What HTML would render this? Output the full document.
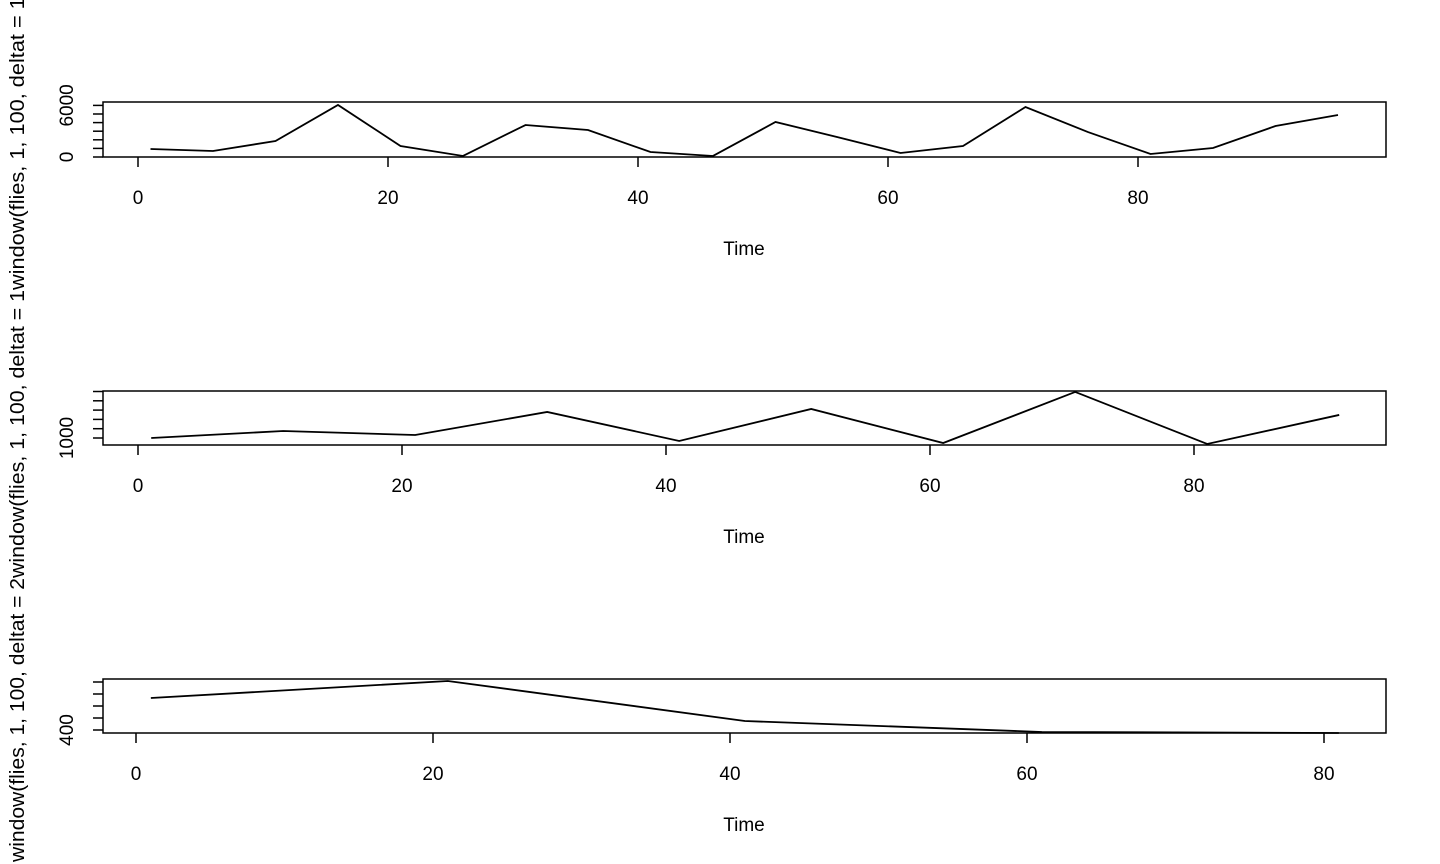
<!DOCTYPE html>
<html><head><meta charset="utf-8"><style>body{margin:0;background:#fff}svg{display:block}text{font-family:"Liberation Sans",Arial,sans-serif;fill:#000}</style></head>
<body>
<svg id="chart" width="1440" height="864" xmlns="http://www.w3.org/2000/svg"></svg>
<script>
const times1=[1,6,11,16,21,26,31,36,41,46,51,56,61,66,71,76,81,86,91,96];
const vals1=[930,700,1860,6050,1280,120,3720,3140,580,120,4070,2300,470,1280,5810,2900,350,1050,3600,4880];
const times2=[1,11,21,31,41,51,61,71,81,91];
const vals2=[1000,1750,1320,3800,680,4120,460,5950,360,3480];
const times3=[1,21,41,61,81];
const vals3=[933,1217,550,367,350];
const xticks1=[0,20,40,60,80],xticks2=[0,20,40,60,80],xticks3=[0,20,40,60,80];
const yticks1=[0,1000,2000,3000,4000,5000,6000],ylabels1=["0","","","","","","6000"];
const yticks2=[1000,2000,3000,4000,5000,6000],ylabels2=["1000","","","","",""];
const yticks3=[400,600,800,1000,1200],ylabels3=["400","","","",""];
const NS="http://www.w3.org/2000/svg",svg=document.getElementById('chart');
function mk(t,a,p){const e=document.createElementNS(NS,t);for(const k in a)e.setAttribute(k,a[k]);(p||svg).appendChild(e);return e;}
const panels=[
 {t:times1,v:vals1,xt:xticks1,yt:yticks1,yl:ylabels1,top:102,bot:157,x0:138,xs:12.5,y0v:0,y0:157,ys:0.0086},
 {t:times2,v:vals2,xt:xticks2,yt:yticks2,yl:ylabels2,top:391,bot:445,x0:138,xs:13.2,y0v:1000,y0:438,ys:0.0093},
 {t:times3,v:vals3,xt:xticks3,yt:yticks3,yl:ylabels3,top:679,bot:733,x0:136,xs:14.85,y0v:400,y0:730,ys:0.06}];
panels.forEach((p,i)=>{
 const g=mk('g',{});
 
 
 const X=t=>p.x0+t*p.xs, Y=v=>p.y0-(v-p.y0v)*p.ys;
 const box=mk('rect',{x:103,y:p.top,width:1283,height:p.bot-p.top,fill:'none',stroke:'#000','stroke-width':1.5},g);
 
 
 const line=mk('polyline',{points:p.t.map((t,j)=>X(t)+','+Y(p.v[j])).join(' '),fill:'none',stroke:'#000','stroke-width':1.8},g);
 
 
 p.xt.forEach(t=>{
  mk('line',{x1:X(t),x2:X(t),y1:p.bot,y2:p.bot+10,stroke:'#000','stroke-width':1.5},g);
  const tx=mk('text',{x:X(t),y:p.bot+47,'font-size':19,'text-anchor':'middle'},g);tx.textContent=t;
  
  
 });
 p.yt.forEach((v,j)=>{
  mk('line',{x1:93,x2:103,y1:Y(v),y2:Y(v),stroke:'#000','stroke-width':1.5},g);
  if(p.yl[j]){const tx=mk('text',{x:73,y:Y(v),'font-size':19,'text-anchor':'middle',transform:`rotate(-90 73 ${Y(v)})`},g);tx.textContent=p.yl[j];
  
  }
 });
 const xl=mk('text',{x:744,y:p.bot+98,'font-size':19,'text-anchor':'middle'},g);xl.textContent='Time';
 
 
});
const labs=[["window(flies, 1, 100, deltat = 2",862,284],["window(flies, 1, 100, deltat = 1 ",578,288],["window(flies, 1, 100, deltat = 1)",290,300]];
labs.forEach(l=>{const t=mk('text',{x:24,y:l[1],'font-size':20,textLength:l[2],lengthAdjust:'spacingAndGlyphs',transform:`rotate(-90 24 ${l[1]})`});t.textContent=l[0];
 
 });
</script>
</body></html>
